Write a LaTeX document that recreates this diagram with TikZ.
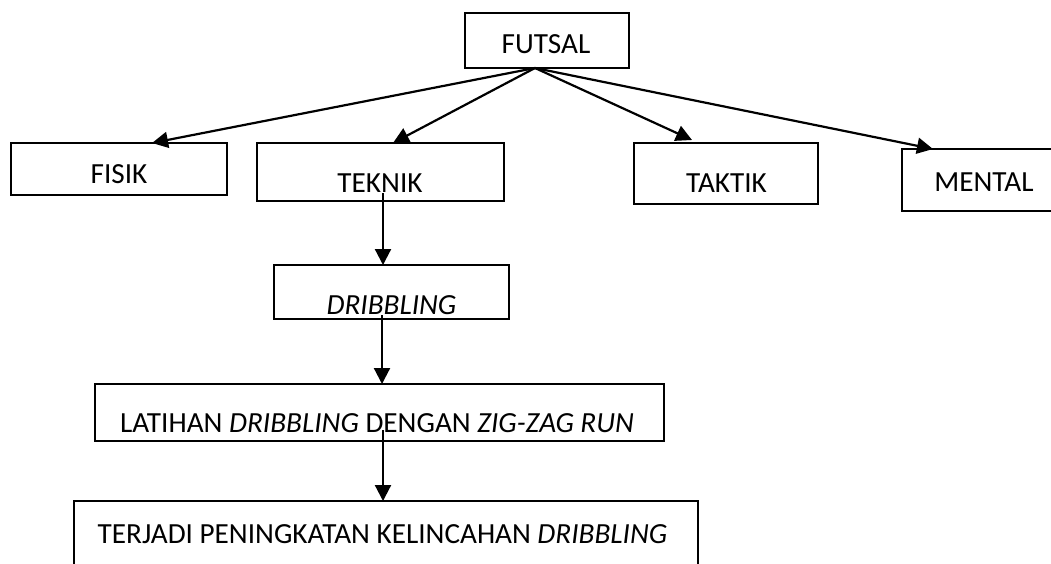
\documentclass[tikz,border=0pt]{standalone}
\usepackage{fontspec}
\setmainfont{Carlito}
\usetikzlibrary{arrows.meta}
\begin{document}
\begin{tikzpicture}[x=1pt,y=-1pt,
  box/.style={draw,line width=2.2pt,inner sep=0pt,outer sep=0pt},
  txt/.style={font=\fontsize{29.2}{35}\selectfont,inner sep=0pt,outer sep=0pt,anchor=base},
  arr/.style={line width=2.2pt,-{Triangle[length=16pt,width=16pt]}}]
\useasboundingbox (0,0) rectangle (1051,563);
\begin{scope}
\clip (0,0) rectangle (1051,563);
% boxes
\node[box,minimum width=164pt,minimum height=55pt] (futsal) at (547,40.5) {};
\node[box,minimum width=216pt,minimum height=52pt] (fisik) at (119,169) {};
\node[box,minimum width=247pt,minimum height=58pt] (teknik) at (380.5,172) {};
\node[box,minimum width=184pt,minimum height=61pt] (taktik) at (726,173.5) {};
\node[box,minimum width=178pt,minimum height=62pt] (mental) at (991,180) {};
\node[box,minimum width=235pt,minimum height=54pt] (dribbling) at (391.5,292) {};
\node[box,minimum width=569pt,minimum height=57pt] (latihan) at (379.5,412.5) {};
\node[box,minimum width=624pt,minimum height=89pt] (terjadi) at (386,545.5) {};
% texts
\node[txt] (futsalt) at (546,53) {FUTSAL};
\node[txt] (fisikt) at (119,183) {FISIK};
\node[txt] (teknikt) at (380,192) {TEKNIK};
\node[txt] (taktikt) at (726.5,192) {TAKTIK};
\node[txt] (mentalt) at (984,191) {MENTAL};
\node[txt] (dribblingt) at (391.5,314) {\textit{DRIBBLING}};
\node[txt] (latihant) at (377,432) {LATIHAN \textit{DRIBBLING} DENGAN \textit{ZIG-ZAG RUN}};
\node[txt] (terjadit) at (382.5,543) {TERJADI PENINGKATAN KELINCAHAN \textit{DRIBBLING}};
% connectors
\draw[arr] ([xshift=-12pt]futsal.south) -- ([xshift=33pt]fisik.north);
\draw[arr] ([xshift=-12pt]futsal.south) -- ([xshift=12.5pt]teknik.north);
\draw[arr] ([xshift=-12pt]futsal.south) -- ([xshift=-34pt,yshift=3pt]taktik.north);
\draw[arr] ([xshift=-12pt]futsal.south) -- ([xshift=-58pt]mental.north);
\draw[arr] ([xshift=2.5pt,yshift=8pt]teknik.south) -- ([xshift=-8.5pt]dribbling.north);
\draw[arr] ([xshift=-9.5pt,yshift=4pt]dribbling.south) -- ([xshift=2.5pt]latihan.north);
\draw[arr] ([xshift=3.5pt,yshift=11pt]latihan.south) -- ([xshift=-3pt]terjadi.north);
\end{scope}
\end{tikzpicture}
\end{document}
